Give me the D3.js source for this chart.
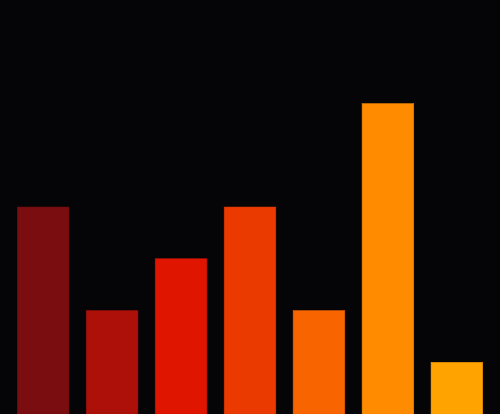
<!DOCTYPE html>
<html><head><meta charset="utf-8">
<script src="https://cdn.jsdelivr.net/npm/d3@7"></script>
<style>html,body{margin:0;padding:0;background:#050507;}svg{display:block;}</style>
</head><body>
<svg id="chart" width="500" height="414"></svg>
<script>
const categories = ["A","B","C","D","E","F","G"];
const values = [4, 2, 3, 4, 2, 6, 1];
const colors = ["#7a0d0f","#ac1009","#e01500","#eb3a00","#f76400","#ff8c00","#ffa300"];
const yMax = 8;

const W = 500, H = 414;
const svg = d3.select("#chart");
svg.append("rect").attr("width", W).attr("height", H).attr("fill", "#050507");
const x = d3.scaleBand().domain(categories).range([0, W]).padding(0.25);
const y = d3.scaleLinear().domain([0, yMax]).range([H, 0]);

svg.selectAll("rect.bar").data(values).join("rect")
  .attr("class", "bar")
  .attr("x", (d, i) => x(categories[i]))
  .attr("y", d => y(d))
  .attr("width", x.bandwidth())
  .attr("height", d => H - y(d))
  .attr("fill", (d, i) => colors[i])
  .attr("stroke", (d, i) => d3.color(colors[i]).darker(0.3))
  .attr("stroke-width", 0.5);
</script>
</body></html>
